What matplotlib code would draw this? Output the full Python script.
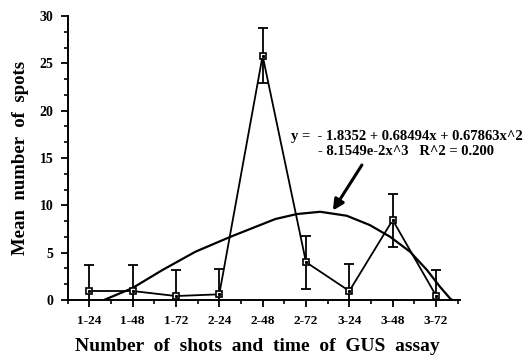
import numpy as np
import matplotlib
matplotlib.use('Agg')
import matplotlib.pyplot as plt
from matplotlib.ticker import MultipleLocator, FixedLocator, AutoMinorLocator

# data
labels = ['1-24', '1-48', '1-72', '2-24', '2-48', '2-72', '3-24', '3-48', '3-72']
means = [0.95, 0.95, 0.42, 0.6, 25.8, 4.0, 0.95, 8.45, 0.46]
errs = [2.8, 2.8, 2.8, 2.7, 2.9, 2.8, 2.85, 2.8, 2.7]

# fitted cubic
fit_x = [1.34, 1.99, 2.69, 3.45, 4.26, 5.29, 5.79, 6.33, 6.94, 7.47, 7.94, 8.40, 8.79, 9.09, 9.32, 9.37]
fit_y = [0.0, 1.24, 3.17, 5.10, 6.68, 8.55, 9.08, 9.32, 8.90, 7.92, 6.68, 5.10, 3.17, 1.40, 0.18, 0.0]

eq_line1 = 'y =  - 1.8352 + 0.68494x + 0.67863x^2'
eq_line2 = '- 8.1549e-2x^3   R^2 = 0.200'

serif = ['Liberation Serif', 'DejaVu Serif']
plt.rcParams['font.family'] = serif
plt.rcParams['font.weight'] = 'bold'

fig = plt.figure(figsize=(5.25, 3.58), dpi=100)
ax = fig.add_axes([0.1286, 0.162, 0.876 - 0.1286, 0.9553 - 0.162])

x = np.arange(1, len(labels) + 1)

ax.plot(fit_x, fit_y, color='black', lw=1.6, solid_capstyle='butt')
ax.errorbar(x, means, yerr=errs, fmt='-', color='black', lw=1.3,
            elinewidth=1.3, capsize=3.5, capthick=1.3, zorder=3)
ax.plot(x, means, 's', ms=5, mfc='white', mec='black', mew=1.2, zorder=4)
ax.plot(x, means, 's', ms=1.2, color='black', zorder=5)

ax.text(5.65, 17.3, eq_line1, fontsize=10.5, fontweight='bold', va='center', ha='left')
ax.text(6.28, 15.66, eq_line2, fontsize=10.5, fontweight='bold', va='center', ha='left')
ax.annotate('', xy=(6.62, 9.45), xytext=(7.29, 14.26),
            arrowprops=dict(arrowstyle='-|>', lw=2.2, color='black', mutation_scale=16,
                            shrinkA=0, shrinkB=0))

ax.set_xlim(0.5, 9.55)
ax.set_ylim(0, 30)
ax.spines['top'].set_visible(False)
ax.spines['right'].set_visible(False)
ax.spines['left'].set_linewidth(1.4)
ax.spines['bottom'].set_linewidth(1.4)

ax.set_xticks(x)
ax.set_xticklabels(labels, fontsize=9.5, fontweight='bold')
ax.xaxis.set_minor_locator(FixedLocator(np.arange(0.5, 10, 1.0)))
ax.yaxis.set_major_locator(MultipleLocator(5))
ax.yaxis.set_minor_locator(AutoMinorLocator(3))
for lab in ax.get_yticklabels():
    lab.set_fontsize(10)
    lab.set_fontweight('bold')
ax.tick_params(axis='both', which='major', direction='out', length=5, width=1.3, pad=6)
ax.tick_params(axis='both', which='minor', direction='out', length=3, width=1.2)
ax.tick_params(axis='y', which='major', pad=5)

ax.set_xlabel('Number  of  shots  and  time  of  GUS  assay', fontsize=14,
              fontweight='bold', va='center')
ax.xaxis.set_label_coords(0.483, -0.165)
ax.set_ylabel('Mean  number  of  spots', fontsize=13.5, fontweight='bold', labelpad=8)

fig.savefig('out.png', dpi=100)
